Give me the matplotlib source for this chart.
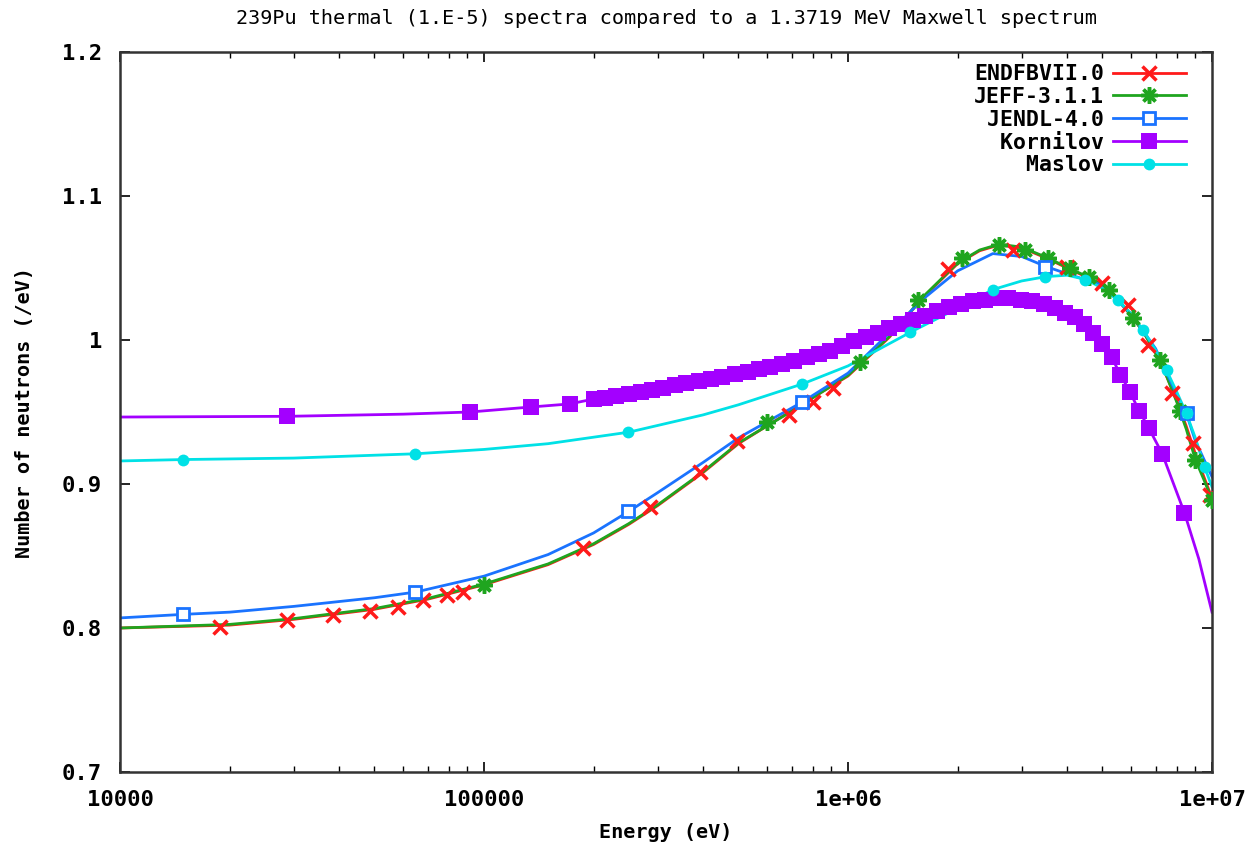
import numpy as np
import matplotlib
matplotlib.use('Agg')
import matplotlib.pyplot as plt

# ENDF/B-VII.0 (red)
endf_e = [1e4, 2e4, 3e4, 5e4, 7e4, 1e5, 1.5e5, 2e5, 2.5e5, 3e5, 4e5, 5e5, 7e5, 1e6, 1.3e6,
          1.6e6, 2e6, 2.3e6, 2.6e6, 3e6, 3.5e6, 4e6, 4.5e6, 5e6, 5.5e6, 6e6, 6.5e6,
          7e6, 7.5e6, 8e6, 8.5e6, 9e6, 9.5e6, 1e7]
endf_v = [0.800, 0.802, 0.806, 0.813, 0.820, 0.830, 0.844, 0.858, 0.872, 0.885, 0.908, 0.928,
          0.951, 0.975, 1.002, 1.029, 1.053, 1.062, 1.066, 1.064, 1.057, 1.050, 1.044,
          1.038, 1.028, 1.017, 1.005, 0.991, 0.975, 0.958, 0.940, 0.921, 0.905, 0.890]
endf_me = [1.88e4, 2.88e4, 3.85e4, 4.86e4, 5.8e4, 6.8e4, 7.9e4, 8.75e4, 1.87e5, 2.86e5,
           3.92e5, 4.96e5, 6.9e5, 8.0e5, 9.1e5, 1.88e6, 2.84e6, 4.0e6, 4.99e6, 5.88e6,
           6.67e6, 7.77e6, 8.87e6, 9.88e6]
endf_mv = [0.8007, 0.8056, 0.809, 0.812, 0.8146, 0.8194, 0.823, 0.825, 0.8556, 0.884,
           0.908, 0.930, 0.948, 0.957, 0.967, 1.049, 1.0625, 1.0507, 1.0396, 1.0243,
           0.9965, 0.963, 0.9285, 0.8924]

# JEFF-3.1.1 (green)
jeff_e = [1e4, 2e4, 3e4, 5e4, 7e4, 1e5, 1.5e5, 2e5, 2.5e5, 3e5, 4e5, 5e5, 7e5, 1e6, 1.3e6,
          1.6e6, 2e6, 2.3e6, 2.6e6, 3e6, 3.5e6, 4e6, 4.5e6, 5e6, 5.5e6, 6e6, 6.5e6,
          7e6, 7.5e6, 8e6, 8.5e6, 9e6, 9.5e6, 1e7]
jeff_v = [0.800, 0.8025, 0.8065, 0.8135, 0.8205, 0.8305, 0.8445, 0.8585, 0.8725, 0.8855,
          0.9085, 0.9285, 0.9505, 0.9755, 1.0025, 1.0295, 1.0535, 1.0625, 1.0665, 1.0645,
          1.0575, 1.0505, 1.0445, 1.0385, 1.0285, 1.0170, 1.0050, 0.9910, 0.9750, 0.9570,
          0.9380, 0.9170, 0.9030, 0.8890]
jeff_me = [1e5, 6e5, 1.08e6, 1.56e6, 2.06e6, 2.6e6, 3.06e6, 3.54e6, 4.07e6, 4.6e6,
           5.2e6, 6.07e6, 7.2e6, 8.17e6, 8.98e6, 1e7]
jeff_mv = [0.830, 0.943, 0.985, 1.028, 1.057, 1.066, 1.0625, 1.057, 1.050, 1.044,
           1.035, 1.015, 0.986, 0.951, 0.917, 0.889]

# JENDL-4.0 (blue)
jendl_e = [1e4, 1.5e4, 2e4, 3e4, 5e4, 6.5e4, 1e5, 1.5e5, 2e5, 2.5e5, 3e5, 4e5, 5e5, 7.5e5,
           1e6, 1.3e6, 1.6e6, 2e6, 2.5e6, 3e6, 3.5e6, 4e6, 5e6, 6e6, 7e6, 8e6, 8.5e6,
           9e6, 1e7]
jendl_v = [0.807, 0.8095, 0.811, 0.815, 0.821, 0.825, 0.836, 0.851, 0.866, 0.881, 0.894,
           0.915, 0.932, 0.957, 0.977, 1.005, 1.028, 1.048, 1.060, 1.058, 1.051, 1.046,
           1.038, 1.018, 0.994, 0.962, 0.949, 0.930, 0.905]
jendl_me = [1.49e4, 6.46e4, 2.49e5, 7.48e5, 3.48e6, 8.53e6]
jendl_mv = [0.8097, 0.825, 0.881, 0.957, 1.0507, 0.949]

# Kornilov (purple)
korn_low_e = [1e4, 2.88e4, 6e4, 9.16e4, 1.35e5, 1.72e5]
korn_low_v = [0.9465, 0.947, 0.9485, 0.950, 0.9535, 0.9556]
korn_low_me = [2.88e4, 9.16e4, 1.35e5, 1.72e5]
korn_low_mv = [0.947, 0.950, 0.9535, 0.9556]
korn_me = [2.0e5, 2.15e5, 2.3e5, 2.5e5, 2.7e5, 2.9e5, 3.1e5, 3.35e5, 3.6e5, 3.9e5,
           4.2e5, 4.5e5, 4.9e5, 5.3e5, 5.7e5, 6.1e5, 6.6e5, 7.1e5, 7.7e5, 8.3e5,
           8.9e5, 9.6e5, 1.04e6, 1.12e6, 1.21e6, 1.3e6, 1.4e6, 1.51e6, 1.63e6, 1.76e6,
           1.9e6, 2.05e6, 2.2e6, 2.38e6, 2.56e6, 2.76e6, 2.98e6, 3.2e6, 3.45e6, 3.7e6,
           3.95e6, 4.2e6, 4.45e6, 4.7e6, 5.0e6, 5.3e6, 5.6e6, 5.95e6, 6.3e6, 6.7e6,
           7.3e6, 8.4e6]
korn_mv = [0.959, 0.960, 0.961, 0.9625, 0.964, 0.9655, 0.967, 0.9685, 0.970, 0.9715,
           0.973, 0.9745, 0.9765, 0.978, 0.980, 0.9815, 0.9835, 0.9855, 0.988, 0.990,
           0.9925, 0.9955, 0.999, 1.002, 1.005, 1.008, 1.011, 1.014, 1.017, 1.020,
           1.023, 1.025, 1.027, 1.028, 1.029, 1.029, 1.028, 1.027, 1.025, 1.022,
           1.019, 1.016, 1.011, 1.005, 0.997, 0.988, 0.976, 0.964, 0.951, 0.939,
           0.921, 0.880]
korn_tail_e = [9.2e6, 1e7]
korn_tail_v = [0.848, 0.811]

# Maslov (cyan)
maslov_e = [1e4, 1.5e4, 3e4, 6.5e4, 1e5, 1.5e5, 2.5e5, 4e5, 5e5, 7.5e5, 1e6, 1.5e6,
            2e6, 2.5e6, 3e6, 3.5e6, 4e6, 4.5e6, 5e6, 5.5e6, 6e6, 6.5e6, 7e6, 7.5e6,
            8e6, 8.5e6, 9e6, 9.5e6, 1e7]
maslov_v = [0.916, 0.917, 0.918, 0.921, 0.924, 0.928, 0.936, 0.948, 0.955, 0.9695,
            0.982, 1.006, 1.022, 1.035, 1.041, 1.044, 1.045, 1.042, 1.036, 1.028,
            1.018, 1.006, 0.993, 0.979, 0.964, 0.949, 0.932, 0.913, 0.898]
maslov_me = [1.49e4, 6.46e4, 2.49e5, 7.48e5, 1.48e6, 2.5e6, 3.48e6, 4.48e6, 5.52e6,
             6.46e6, 7.52e6, 8.53e6, 9.55e6]
maslov_mv = [0.917, 0.921, 0.936, 0.9695, 1.0056, 1.035, 1.044, 1.0417, 1.028,
             1.007, 0.979, 0.949, 0.912]

mono = 'DejaVu Sans Mono'

fig = plt.figure(figsize=(12.52, 8.43), dpi=100)
ax = fig.add_axes([120 / 1252, 1 - 772 / 843, 1092 / 1252, 720 / 843])

lw = 2.0
series = [
    ('ENDFBVII.0', '#ff1a1a', endf_e, endf_v, endf_me, endf_mv,
     dict(marker='x', ms=10, mew=2.5)),
    ('JEFF-3.1.1', '#1fa51f', jeff_e, jeff_v, jeff_me, jeff_mv,
     dict(marker=(8, 2, 0), ms=12, mew=2.5)),
    ('JENDL-4.0', '#1a73ff', jendl_e, jendl_v, jendl_me, jendl_mv,
     dict(marker='s', ms=8.5, mew=2.0, mfc='white')),
    ('Kornilov', '#a300ff', korn_low_e + korn_me + korn_tail_e,
     korn_low_v + korn_mv + korn_tail_v, korn_low_me + korn_me, korn_low_mv + korn_mv,
     dict(marker='s', ms=12, mew=0)),
    ('Maslov', '#00e1e6', maslov_e, maslov_v, maslov_me, maslov_mv,
     dict(marker='o', ms=8.5, mew=0)),
]

handles = []
for name, color, le, lv, me, mv, mk in series:
    ax.plot(le, lv, color=color, lw=lw, zorder=2)
    ax.plot(me, mv, ls='none', color=color, zorder=3, **mk)
    h, = ax.plot([], [], color=color, lw=lw, **mk)
    handles.append((h, name))

ax.set_xscale('log')
ax.set_xlim(1e4, 1e7)
ax.set_ylim(0.7, 1.2)
ax.set_xticks([1e4, 1e5, 1e6, 1e7])
ax.set_xticklabels(['10000', '100000', '1e+06', '1e+07'])
ax.set_yticks([0.7, 0.8, 0.9, 1.0, 1.1, 1.2])
ax.set_yticklabels(['0.7', '0.8', '0.9', '1', '1.1', '1.2'])
ax.tick_params(axis='both', which='major', direction='in', length=7, width=1.2,
               top=True, right=True, labelsize=16, pad=13)
ax.tick_params(axis='x', which='minor', direction='in', length=4, width=1.0,
               top=True, bottom=True)
ax.tick_params(axis='y', which='minor', left=False, right=False)
for lab in ax.get_xticklabels() + ax.get_yticklabels():
    lab.set_fontfamily(mono)
    lab.set_fontweight('bold')
for sp in ax.spines.values():
    sp.set_linewidth(1.8)
    sp.set_color('#333333')

ax.set_title('239Pu thermal (1.E-5) spectra compared to a 1.3719 MeV Maxwell spectrum',
             fontfamily=mono, fontsize=14.5, pad=20)
ax.set_xlabel('Energy (eV)', fontfamily=mono, fontweight='bold', fontsize=14.5, labelpad=9)
ax.set_ylabel('Number of neutrons (/eV)', fontfamily=mono, fontweight='bold',
              fontsize=14.5, labelpad=20)

leg = ax.legend([h for h, _ in handles], [n.rjust(10) for _, n in handles],
                loc='upper right', bbox_to_anchor=(0.994, 1.01), frameon=False,
                markerfirst=False, handlelength=3.4, handletextpad=0.4,
                labelspacing=0.13, prop={'family': mono, 'weight': 'bold', 'size': 15.5})

fig.savefig('out.png', dpi=100)
